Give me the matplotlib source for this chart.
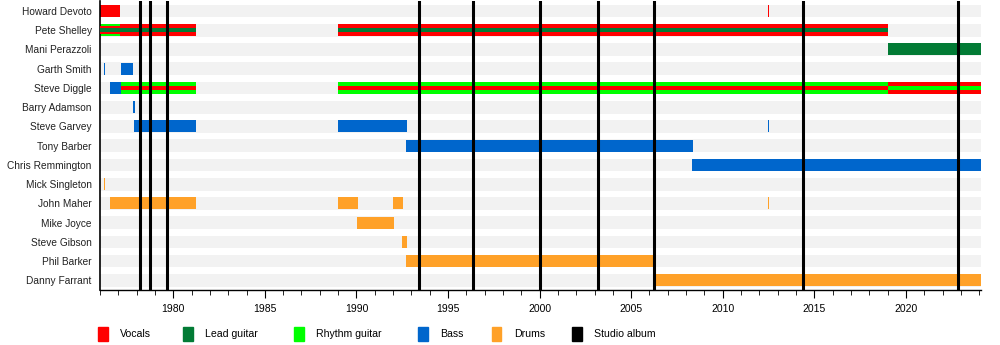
import matplotlib.pyplot as plt
from matplotlib.patches import Rectangle

plt.rcParams['font.family'] = ['Liberation Sans', 'DejaVu Sans']

members = ["Howard Devoto", "Pete Shelley", "Mani Perazzoli", "Garth Smith",
           "Steve Diggle", "Barry Adamson", "Steve Garvey", "Tony Barber",
           "Chris Remmington", "Mick Singleton", "John Maher", "Mike Joyce",
           "Steve Gibson", "Phil Barker", "Danny Farrant"]

start_year = 1976.0
end_year = 2024.1

# (member, from, to, roles) - first role fills the bar, the rest are stripes
front_line = [
    ("Howard Devoto", 1976.0, 1977.1, ("vocals",)),
    ("Howard Devoto", 2012.48, 2012.54, ("vocals",)),
    ("Pete Shelley", 1976.0, 1977.1, ("rhythm", "vocals", "lead")),
    ("Pete Shelley", 1977.1, 1981.25, ("vocals", "lead")),
    ("Pete Shelley", 1989.0, 2019.0, ("vocals", "lead")),
    ("Mani Perazzoli", 2019.0, end_year, ("lead",)),
    ("Steve Diggle", 1977.15, 1981.25, ("rhythm", "vocals")),
    ("Steve Diggle", 1989.0, 2019.0, ("rhythm", "vocals")),
    ("Steve Diggle", 2019.0, end_year, ("vocals", "rhythm")),
]

bass_players = [
    ("Garth Smith", 1976.2, 1976.28),
    ("Garth Smith", 1977.15, 1977.8),
    ("Steve Diggle", 1976.55, 1977.15),
    ("Barry Adamson", 1977.82, 1977.93),
    ("Steve Garvey", 1977.88, 1981.25),
    ("Steve Garvey", 1989.0, 1992.75),
    ("Steve Garvey", 2012.48, 2012.54),
    ("Tony Barber", 1992.72, 2008.35),
    ("Chris Remmington", 2008.3, end_year),
]

drummers = [
    ("Mick Singleton", 1976.2, 1976.26),
    ("John Maher", 1976.55, 1981.25),
    ("John Maher", 1989.0, 1990.1),
    ("John Maher", 1992.0, 1992.55),
    ("John Maher", 2012.48, 2012.54),
    ("Mike Joyce", 1990.05, 1992.05),
    ("Steve Gibson", 1992.5, 1992.78),
    ("Phil Barker", 1992.72, 2006.35),
    ("Danny Farrant", 2006.3, end_year),
]

albums = [1978.18, 1978.73, 1979.66, 1993.41, 1996.36, 2000.02,
          2003.18, 2006.24, 2014.37, 2022.83]

colors = {"vocals": "#ff0000", "lead": "#027b35", "rhythm": "#00ff00",
          "bass": "#0066cc", "drums": "#ffa128", "album": "#000000"}
legend_items = [("vocals", "Vocals"), ("lead", "Lead guitar"),
                ("rhythm", "Rhythm guitar"), ("bass", "Bass"),
                ("drums", "Drums"), ("album", "Studio album")]

row = {m: i for i, m in enumerate(members)}
bar_h = 0.62

fig = plt.figure(figsize=(10, 3.45), dpi=100)
ax = fig.add_axes([0.1, 0.1594, 0.881, 0.8367])

# light background stripe on every row
ax.barh(range(len(members)), end_year - start_year, left=start_year,
        height=0.66, color="#f2f2f2", zorder=0)

for m, a, b, roles in front_line:
    y = row[m]
    ax.barh(y, b - a, left=a, height=bar_h, color=colors[roles[0]],
            linewidth=0, zorder=2)
    n = len(roles) - 1
    for k, r in enumerate(roles[1:]):
        ax.barh(y, b - a, left=a, height=bar_h * (n - k) / 3,
                color=colors[r], linewidth=0, zorder=3 + k)

for m, a, b in bass_players:
    ax.barh(row[m], b - a, left=a, height=bar_h, color=colors["bass"],
            linewidth=0, zorder=2)
for m, a, b in drummers:
    ax.barh(row[m], b - a, left=a, height=bar_h, color=colors["drums"],
            linewidth=0, zorder=2)

for x in albums:
    ax.axvline(x, color="black", linewidth=2.2, zorder=6)

ax.set_xlim(start_year, end_year)
ax.set_ylim(len(members) - 0.5, -0.5)
ax.set_yticks(range(len(members)))
ax.set_yticklabels(members, fontsize=7.3, color="#222222")
ax.tick_params(axis="y", length=0, pad=6)
ax.set_xticks(range(1980, 2024, 5))
ax.set_xticks(range(1976, 2025), minor=True)
ax.tick_params(axis="x", which="major", length=6, labelsize=7.5, pad=4)
ax.tick_params(axis="x", which="minor", length=3.5)
for s in ("top", "right"):
    ax.spines[s].set_visible(False)
ax.spines["left"].set_linewidth(1.2)
ax.spines["bottom"].set_linewidth(1.0)

# legend row along the bottom
legend_x = [0.098, 0.183, 0.294, 0.418, 0.492, 0.572]
for (key, label), lx in zip(legend_items, legend_x):
    fig.add_artist(Rectangle((lx, 0.013), 0.0095, 0.038,
                             transform=fig.transFigure, color=colors[key]))
    fig.text(lx + 0.022, 0.031, label, fontsize=7.6, va="center")

fig.savefig("out.png", dpi=100)
